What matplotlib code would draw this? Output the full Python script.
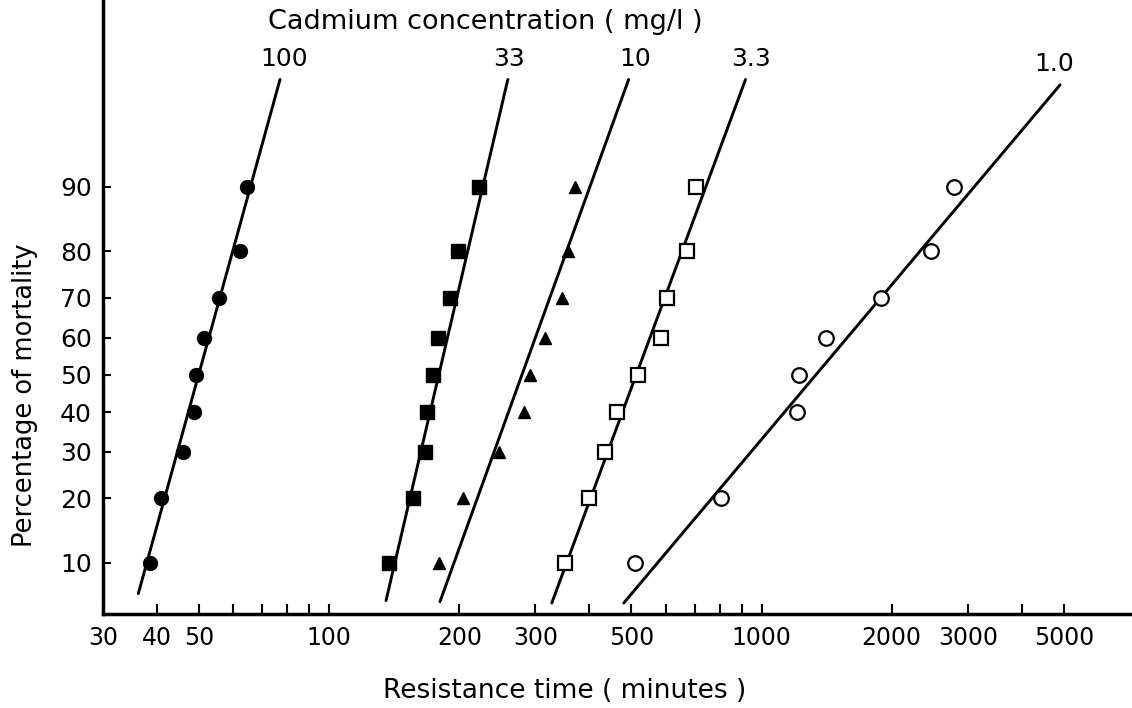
import statistics

import matplotlib
matplotlib.use("Agg")
import matplotlib.pyplot as plt
import numpy as np

# mortality (%) vs resistance time (min), one series per Cd concentration
conc_labels = ["100", "33", "10", "3.3", "1.0"]

pct = [10, 20, 30, 40, 50, 60, 70, 80, 90]
pct_1_0 = [10, 20, 40, 50, 60, 70, 80, 90]

t_100 = [38.5, 40.8, 45.9, 48.7, 49.3, 51.5, 55.5, 62.1, 64.6]
t_33 = [137.8, 156.1, 166.6, 168.1, 173.6, 178.8, 190.3, 198.9, 222.4]
t_10 = [179.2, 203.6, 247.4, 281.7, 291.7, 315.4, 344.7, 357.0, 370.0]
t_3_3 = [350.8, 399.3, 434.0, 464.2, 518.0, 584.5, 603.4, 673.7, 704.0]
t_1_0 = [508.9, 804.0, 1209.0, 1220.0, 1413.0, 1890.0, 2466.0, 2791.0]

# fitted probit lines: (time, %) at both ends
fit_t = [[36.2, 77.0], [135.4, 259.0], [180.4, 492.9], [327.3, 918.4], [480.1, 4903.0]]
fit_p = [[6.8, 97.8], [6.2, 97.8], [6.1, 97.8], [6.0, 97.8], [6.0, 97.6]]

xticks = [30, 40, 50, 60, 70, 80, 90, 100, 200, 300, 400, 500, 600, 700, 800, 900,
          1000, 2000, 3000, 4000, 5000]
xlabels = ["30", "40", "50", "", "", "", "", "100", "200", "300", "", "500", "", "", "", "",
           "1000", "2000", "3000", "", "5000"]
yticks = [10, 20, 30, 40, 50, 60, 70, 80, 90]

nd = statistics.NormalDist()
_inv = np.vectorize(nd.inv_cdf, otypes=[float])
_cdf = np.vectorize(nd.cdf, otypes=[float])


def probit(p):
    p = np.clip(np.asarray(p, dtype=float) / 100.0, 1e-6, 1 - 1e-6)
    return _inv(p)


def inv_probit(z):
    return _cdf(np.asarray(z, dtype=float)) * 100.0


plt.rcParams["font.family"] = ["DejaVu Sans"]

fig = plt.figure(figsize=(11.32, 7.08), dpi=100)
ax = fig.add_axes([0.091, 0.133, 0.909, 0.867])

ax.set_xscale("log")
ax.set_yscale("function", functions=(probit, inv_probit))
ax.set_xlim(30, 7190)
ax.set_ylim(5.17, 99.47)

for ts, ps in zip(fit_t, fit_p):
    ax.plot(ts, ps, color="black", lw=2.1, solid_capstyle="round")

ax.plot(t_100, pct, "o", color="black", ms=10)
ax.plot(t_33, pct, "s", color="black", ms=10)
ax.plot(t_10, pct, "^", color="black", ms=8.5)
ax.plot(t_3_3, pct, "s", mfc="white", mec="black", mew=1.6, ms=10.5)
ax.plot(t_1_0, pct_1_0, "o", mfc="white", mec="black", mew=1.6, ms=10.5)

label_dx = [3, 1, 5, 4, -4]
for lab, ts, ps, dx in zip(conc_labels, fit_t, fit_p, label_dx):
    ax.annotate(lab, xy=(ts[1], ps[1]), xytext=(dx, 6), textcoords="offset points",
                ha="center", va="bottom", fontsize=18)

ax.set_xticks(xticks)
ax.set_xticklabels(xlabels)
ax.xaxis.set_minor_locator(matplotlib.ticker.NullLocator())
ax.set_yticks(yticks)
ax.set_yticklabels([str(v) for v in yticks])
ax.yaxis.set_minor_locator(matplotlib.ticker.NullLocator())

ax.tick_params(axis="x", direction="in", length=7, width=1.5, labelsize=17, pad=9)
ax.tick_params(axis="y", direction="in", length=6, width=1.5, labelsize=18, pad=8)

ax.spines["top"].set_visible(False)
ax.spines["right"].set_visible(False)
ax.spines["left"].set_linewidth(2.5)
ax.spines["bottom"].set_linewidth(2.5)

fig.text(485 / 1132, 1 - 22 / 708, "Cadmium concentration ( mg/l )", ha="center", va="center",
         fontsize=19.5)
fig.text(565 / 1132, 1 - 691 / 708, "Resistance time ( minutes )", ha="center", va="center",
         fontsize=19)
fig.text(25 / 1132, 1 - 395 / 708, "Percentage of mortality", ha="center", va="center",
         rotation=90, fontsize=18.5)

fig.savefig("out.png", dpi=100)
